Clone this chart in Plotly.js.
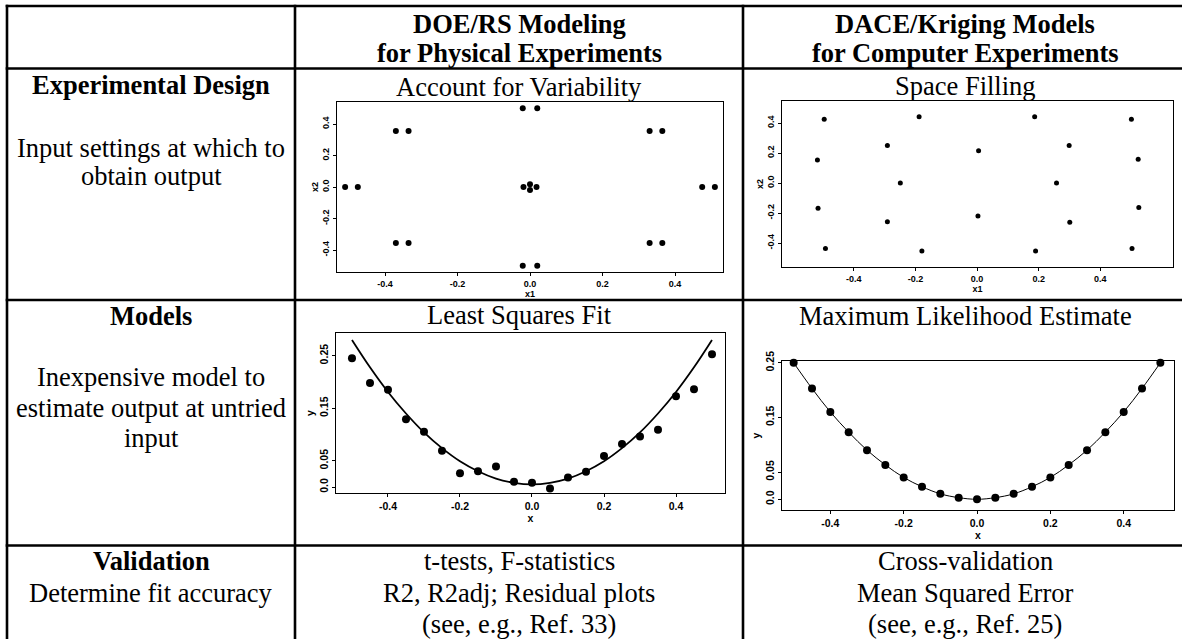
<!DOCTYPE html>
<html><head><meta charset="utf-8">
<script src="https://cdn.plot.ly/plotly-3.0.1.min.js"></script>
<style>html,body{margin:0;padding:0;background:#fff;}#chart{width:1182px;height:639px;}</style>
</head><body><div id="chart"></div>
<script>
// ---- Data ----
// Experimental design: Account for Variability (x1, x2)
const doeX = [-0.02, 0.02, -0.37, -0.335, 0.33, 0.365, -0.51, -0.475, -0.018, 0.0, 0.0, 0.018, 0.475, 0.51, -0.37, -0.335, 0.33, 0.365, -0.02, 0.02];
const doeY = [0.5, 0.5, 0.355, 0.355, 0.355, 0.355, 0.0, 0.0, 0.0, 0.017, -0.019, 0.0, 0.0, 0.0, -0.355, -0.355, -0.355, -0.355, -0.5, -0.5];
// Experimental design: Space Filling (x1, x2)
const sfX = [-0.496, -0.188, 0.187, 0.501, -0.291, 0.005, 0.299, -0.518, 0.523, -0.249, 0.258, -0.516, 0.525, -0.291, 0.003, 0.301, -0.492, -0.179, 0.19, 0.503];
const sfY = [0.425, 0.442, 0.442, 0.425, 0.251, 0.216, 0.251, 0.153, 0.158, 0.0, 0.0, -0.169, -0.164, -0.258, -0.22, -0.262, -0.436, -0.453, -0.453, -0.436];
// Models: shared x grid
const modelX = [-0.5, -0.45, -0.4, -0.35, -0.3, -0.25, -0.2, -0.15, -0.1, -0.05, 0.0, 0.05, 0.1, 0.15, 0.2, 0.25, 0.3, 0.35, 0.4, 0.45, 0.5];
// Least squares: observed points and fitted curve
const lsY = [0.245, 0.198, 0.185, 0.129, 0.105, 0.069, 0.026, 0.030, 0.039, 0.010, 0.008, -0.003, 0.018, 0.029, 0.059, 0.082, 0.096, 0.109, 0.173, 0.186, 0.253];
const lsFitY = [0.280, 0.228, 0.181, 0.140, 0.104, 0.074, 0.049, 0.030, 0.016, 0.008, 0.005, 0.008, 0.016, 0.030, 0.049, 0.074, 0.104, 0.140, 0.181, 0.228, 0.280];
// Maximum likelihood: points (interpolated by the kriging curve)
const mleY = [0.25, 0.203, 0.16, 0.123, 0.09, 0.063, 0.04, 0.023, 0.01, 0.003, 0.0, 0.003, 0.01, 0.023, 0.04, 0.063, 0.09, 0.123, 0.16, 0.203, 0.25];
// Tick labels
const designTicks = [-0.4, -0.2, 0.0, 0.2, 0.4];
const designTickText = ['-0.4', '-0.2', '0.0', '0.2', '0.4'];
const modelYTicks = [0.0, 0.05, 0.15, 0.25];
const modelYTickText = ['0.0', '0.05', '0.15', '0.25'];
// Table text
const headerCol2 = ['DOE/RS Modeling', 'for Physical Experiments'];
const headerCol3 = ['DACE/Kriging Models', 'for Computer Experiments'];
const rowHeads = ['Experimental Design', 'Models', 'Validation'];
const rowDesc1 = ['Input settings at which to', 'obtain output'];
const rowDesc2 = ['Inexpensive model to', 'estimate output at untried', 'input'];
const rowDesc3 = ['Determine fit accuracy'];
const plotTitles = ['Account for Variability', 'Space Filling', 'Least Squares Fit', 'Maximum Likelihood Estimate'];
const valid2 = ['t-tests, F-statistics', 'R2, R2adj; Residual plots', '(see, e.g., Ref. 33)'];
const valid3 = ['Cross-validation', 'Mean Squared Error', '(see, e.g., Ref. 25)'];

// ---- Layout geometry (pixels) ----
const W = 1182, H = 639;
const px = v => v / W;
const py = v => 1 - v / H;
const FS = 26.5;
const SERIF = 'Liberation Serif';
const SANS = 'Liberation Sans';

function txt(t, cx, base, bold) {
  return {text: bold ? '<b>' + t + '</b>' : t, x: px(cx), y: py(base - 0.3375 * FS), xref: 'paper', yref: 'paper',
    xanchor: 'center', yanchor: 'middle', showarrow: false, borderpad: 0,
    font: {family: SERIF, size: FS, color: '#000'}};
}
const C1 = 151, C2 = 519, C3 = 965;
const ann = [];
headerCol2.forEach((t, i) => ann.push(txt(t, C2, [33, 62][i], true)));
headerCol3.forEach((t, i) => ann.push(txt(t, C3, [33, 62][i], true)));
ann.push(txt(rowHeads[0], C1, 94, true));
rowDesc1.forEach((t, i) => ann.push(txt(t, C1, [157, 185][i], false)));
ann.push(txt(plotTitles[0], C2, 96, false));
ann.push(txt(plotTitles[1], C3, 95, false));
ann.push(txt(rowHeads[1], C1, 325, true));
rowDesc2.forEach((t, i) => ann.push(txt(t, C1, [386, 416.5, 446.5][i], false)));
ann.push(txt(plotTitles[2], C2, 324, false));
ann.push(txt(plotTitles[3], C3, 325, false));
ann.push(txt(rowHeads[2], C1, 570, true));
rowDesc3.forEach((t, i) => ann.push(txt(t, C1, 601.5, false)));
valid2.forEach((t, i) => ann.push(txt(t, C2, [570, 601.5, 633][i], false)));
valid3.forEach((t, i) => ann.push(txt(t, C3, [570, 601.5, 633][i], false)));

function hline(y, x0, x1) {
  return {type: 'line', xref: 'paper', yref: 'paper', x0: px(x0), x1: px(x1), y0: py(y), y1: py(y), line: {color: '#000', width: 2.6}};
}
function vline(x, y0, y1) {
  return {type: 'line', xref: 'paper', yref: 'paper', x0: px(x), x1: px(x), y0: py(y0), y1: py(y1), line: {color: '#000', width: 2.6}};
}
const shapes = [hline(6, 5.7, 1190), hline(68.5, 5.7, 1190), hline(300, 5.7, 1190), hline(545.5, 5.7, 1190),
  vline(7, 4.7, 645), vline(295, 4.7, 645), vline(743, 4.7, 645)];

function axis(x0, x1, range, tv, tt, fsz, title, standoff, angle, anchor) {
  return {domain: [x0, x1], range: range, anchor: anchor, tickmode: 'array', tickvals: tv,
    ticktext: tt.map(s => '<b>' + s + '</b>'),
    showline: true, mirror: true, linecolor: '#000', linewidth: 1.2, ticks: 'outside', ticklen: 3, tickwidth: 1,
    tickcolor: '#000', showgrid: false, zeroline: false, tickangle: angle, automargin: false,
    tickfont: {family: SANS, size: fsz, color: '#000'},
    title: {text: '<b>' + title + '</b>', standoff: standoff, font: {family: SANS, size: fsz, color: '#000'}}};
}
function xdom(l, r) { return [px(l), px(r)]; }
function ydom(t, b) { return [py(b), py(t)]; }

const layout = {
  width: W, height: H, margin: {l: 0, r: 0, t: 0, b: 0}, showlegend: false,
  paper_bgcolor: '#fff', plot_bgcolor: 'rgba(0,0,0,0)',
  font: {family: SERIF, color: '#000'},
  xaxis: axis(...xdom(337, 723), [-0.5324, 0.5324], designTicks, designTickText, 9, 'x1', 0, 0, 'y'),
  yaxis: axis(...ydom(102, 272), [-0.5397, 0.5397], designTicks, designTickText, 9, 'x2', 1, -90, 'x'),
  xaxis2: axis(...xdom(782, 1173), [-0.633, 0.636], designTicks, designTickText, 9, 'x1', 0, 0, 'y2'),
  yaxis2: axis(...ydom(101, 267), [-0.56, 0.547], designTicks, designTickText, 9, 'x2', 1, -90, 'x2'),
  xaxis3: axis(...xdom(336, 725), [-0.5444, 0.5361], designTicks, designTickText, 10.5, 'x', 1, 0, 'y3'),
  yaxis3: axis(...ydom(333, 493), [-0.01143, 0.2933], modelYTicks, modelYTickText, 10.5, 'y', 1, -90, 'x3'),
  xaxis4: axis(...xdom(782, 1174), [-0.5318, 0.5372], designTicks, designTickText, 10.5, 'x', 1, 0, 'y4'),
  yaxis4: axis(...ydom(361, 510), [-0.0196, 0.2533], modelYTicks, modelYTickText, 10.5, 'y', 1, -90, 'x4'),
  annotations: ann, shapes: shapes
};

const mk = (s) => ({color: '#000', size: s});
const traces = [
  {type: 'scatter', mode: 'markers', x: doeX, y: doeY, xaxis: 'x', yaxis: 'y', marker: mk(6), cliponaxis: false, hoverinfo: 'skip'},
  {type: 'scatter', mode: 'markers', x: sfX, y: sfY, xaxis: 'x2', yaxis: 'y2', marker: mk(5), cliponaxis: false, hoverinfo: 'skip'},
  {type: 'scatter', mode: 'lines', x: modelX, y: lsFitY, xaxis: 'x3', yaxis: 'y3', line: {color: '#000', width: 1.8, shape: 'spline'}, cliponaxis: false, hoverinfo: 'skip'},
  {type: 'scatter', mode: 'markers', x: modelX, y: lsY, xaxis: 'x3', yaxis: 'y3', marker: mk(8), cliponaxis: false, hoverinfo: 'skip'},
  {type: 'scatter', mode: 'lines+markers', x: modelX, y: mleY, xaxis: 'x4', yaxis: 'y4', marker: mk(8), line: {color: '#000', width: 1, shape: 'spline'}, cliponaxis: false, hoverinfo: 'skip'}
];

Plotly.newPlot('chart', traces, layout, {staticPlot: true, displayModeBar: false});
</script>
</body></html>
